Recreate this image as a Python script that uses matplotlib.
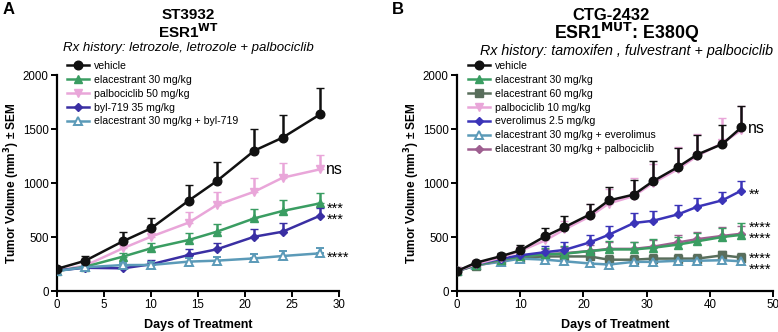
import numpy as np
import matplotlib
matplotlib.use("Agg")
import matplotlib.pyplot as plt
from matplotlib.lines import Line2D
import matplotlib.transforms as mtrans

plt.rcParams['font.family'] = ['Liberation Sans', 'DejaVu Sans']

# ---------------- Panel A data ----------------
days_a = [0, 3, 7, 10, 14, 17, 21, 24, 28]
a_labels = ["vehicle", "elacestrant 30 mg/kg", "palbociclib 50 mg/kg",
            "byl-719 35 mg/kg", "elacestrant 30 mg/kg + byl-719"]
a_vehicle = [205, 280, 460, 580, 836, 1018, 1300, 1420, 1636]
a_vehicle_sem = [20, 40, 83, 93, 145, 173, 200, 210, 244]
a_elac30 = [185, 225, 318, 395, 472, 549, 673, 741, 812]
a_elac30_sem = [10, 15, 30, 45, 62, 71, 83, 102, 98]
a_palbo50 = [190, 235, 395, 503, 633, 796, 920, 1049, 1127]
a_palbo50_sem = [10, 20, 40, 50, 102, 124, 129, 139, 132]
a_byl = [190, 215, 210, 247, 333, 386, 503, 549, 698]
a_byl_sem = [10, 15, 15, 40, 53, 55, 68, 78, 67]
a_combo = [185, 220, 240, 241, 272, 281, 302, 324, 349]
a_combo_sem = [10, 15, 20, 30, 30, 35, 38, 42, 45]

# significance labels: text and y position
a_ns = ("ns", 1125)
a_stars = [("***\n***", 752), ("****", 350)]

# ---------------- Panel B data ----------------
days_b = [0, 3, 7, 10, 14, 17, 21, 24, 28, 31, 35, 38, 42, 45]
b_labels = ["vehicle", "elacestrant 30 mg/kg", "elacestrant 60 mg/kg",
            "palbociclib 10 mg/kg", "everolimus 2.5 mg/kg",
            "elacestrant 30 mg/kg + everolimus",
            "elacestrant 30 mg/kg + palbociclib"]
b_vehicle = [185, 262, 323, 376, 508, 591, 708, 838, 893, 1016, 1149, 1263, 1361, 1515]
b_vehicle_sem = [10, 15, 25, 46, 77, 102, 99, 125, 132, 185, 175, 184, 179, 200]
b_elac30 = [185, 240, 290, 320, 340, 345, 370, 385, 385, 400, 430, 460, 500, 520]
b_elac30_sem = [10, 15, 30, 40, 60, 75, 80, 75, 70, 85, 70, 75, 85, 110]
b_elac60 = [185, 235, 280, 310, 320, 320, 320, 290, 290, 300, 300, 300, 330, 310]
b_elac60_sem = [10, 15, 20, 25, 30, 35, 40, 40, 40, 45, 40, 40, 40, 40]
b_palbo10 = [185, 250, 310, 370, 470, 570, 690, 810, 880, 1000, 1130, 1250, 1370, 1490]
b_palbo10_sem = [10, 20, 30, 40, 60, 80, 120, 130, 170, 180, 200, 200, 230, 220]
b_everol = [185, 250, 300, 330, 360, 380, 450, 520, 630, 650, 710, 780, 840, 930]
b_everol_sem = [10, 20, 30, 40, 55, 70, 70, 80, 95, 90, 85, 85, 80, 90]
b_elac_ever = [185, 240, 270, 300, 290, 275, 255, 245, 270, 270, 280, 280, 285, 275]
b_elac_ever_sem = [10, 15, 20, 25, 30, 30, 30, 30, 30, 30, 30, 30, 30, 30]
b_elac_palbo = [185, 240, 285, 320, 340, 350, 370, 390, 390, 410, 450, 480, 510, 530]
b_elac_palbo_sem = [10, 20, 30, 40, 50, 55, 60, 60, 60, 65, 70, 70, 80, 75]

b_ns = ("ns", 1505)
b_stars = [("**", 930), ("****\n****", 570), ("****\n****", 288)]

# ---------------- Styles ----------------
C_BLACK = "#111111"
C_GREEN = "#3a9d62"
C_PINK = "#e9a6d9"
C_NAVY = "#3a2fa3"
C_STEEL = "#5b9ab8"
C_DKGREEN = "#596e5c"
C_BLUE = "#3b34b8"
C_MAUVE = "#9e5f90"

fig = plt.figure(figsize=(7.78, 3.32), dpi=100)
W, H = 778, 332

def mkax(x0, x1, y0, y1):
    return fig.add_axes([x0 / W, (H - y1) / H, (x1 - x0) / W, (y1 - y0) / H])

axA = mkax(57, 339, 75, 291)
axB = mkax(457, 773, 75, 291)

LW = 1.8


def plot_series(ax, x, y, sem, color, marker, filled=True, ms=5.5, z=3):
    y = np.asarray(y, float)
    sem = np.asarray(sem, float)
    ax.errorbar(x, y, yerr=[np.zeros_like(sem), sem], color=color, ecolor=color,
                elinewidth=LW, capsize=3.2, capthick=LW, lw=LW,
                marker=marker, ms=ms,
                mfc=color if filled else "white", mec=color,
                mew=1.4 if not filled else 1, zorder=z)
    return Line2D([], [], color=color, lw=LW, marker=marker, ms=ms,
                  mfc=color if filled else "white", mec=color,
                  mew=1.4 if not filled else 1)


def style_axes(ax, xmax, xstep, ylab_px):
    ax.set_xlim(0, xmax)
    ax.set_ylim(0, 2000)
    ax.set_xticks(np.arange(0, xmax + 0.1, xstep))
    ax.set_yticks(np.arange(0, 2001, 500))
    for s in ("top", "right"):
        ax.spines[s].set_visible(False)
    for s in ("left", "bottom"):
        ax.spines[s].set_linewidth(1.6)
    ax.tick_params(direction="out", length=4, width=1.4, labelsize=8.3, pad=2)
    ax.set_xlabel("Days of Treatment", fontsize=9, fontweight="bold", labelpad=5.5)
    ax.set_ylabel("Tumor Volume (mm$^\\mathbf{3}$) ± SEM", fontsize=8.6,
                  fontweight="bold")
    bb = ax.get_position()
    ax.yaxis.set_label_coords((ylab_px / W - bb.x0) / bb.width, 0.5)


def sig_text(ax, x, items, ns):
    ax.text(x, ns[1], ns[0], fontsize=11.5, va="center", ha="left", clip_on=False)
    off = mtrans.ScaledTranslation(0, -3 / 72, fig.dpi_scale_trans)
    for txt, yv in items:
        nl = txt.count("\n") + 1
        ax.text(x + 0.1 * (ax.get_xlim()[1] / 30), yv, txt, fontsize=10.5, va="center",
                ha="left", linespacing=0.72 if nl > 1 else 1.0, clip_on=False,
                transform=ax.transData + off)


def add_legend(ax, handles, labels):
    ax.legend(handles, labels, loc="upper left", bbox_to_anchor=(0.02, 1.085),
              frameon=False, fontsize=7.6, handlelength=2.1, handletextpad=0.5,
              labelspacing=0.37, borderaxespad=0)


# Panel A
hA = {}
hA[a_labels[2]] = plot_series(axA, days_a, a_palbo50, a_palbo50_sem, C_PINK, "v", z=3)
hA[a_labels[1]] = plot_series(axA, days_a, a_elac30, a_elac30_sem, C_GREEN, "^", z=4)
hA[a_labels[3]] = plot_series(axA, days_a, a_byl, a_byl_sem, C_NAVY, "D", ms=4.5, z=5)
hA[a_labels[4]] = plot_series(axA, days_a, a_combo, a_combo_sem, C_STEEL, "^", filled=False, z=6)
hA[a_labels[0]] = plot_series(axA, days_a, a_vehicle, a_vehicle_sem, C_BLACK, "o", ms=6.2, z=7)
style_axes(axA, 30, 5, 22)
add_legend(axA, [hA[l] for l in a_labels], a_labels)
sig_text(axA, 28.6, a_stars, a_ns)

# Panel B
hB = {}
hB[b_labels[2]] = plot_series(axB, days_b, b_elac60, b_elac60_sem, C_DKGREEN, "s", z=3)
hB[b_labels[5]] = plot_series(axB, days_b, b_elac_ever, b_elac_ever_sem, C_STEEL, "^", filled=False, z=3)
hB[b_labels[6]] = plot_series(axB, days_b, b_elac_palbo, b_elac_palbo_sem, C_MAUVE, "D", ms=4.5, z=4)
hB[b_labels[1]] = plot_series(axB, days_b, b_elac30, b_elac30_sem, C_GREEN, "^", z=5)
hB[b_labels[4]] = plot_series(axB, days_b, b_everol, b_everol_sem, C_BLUE, "D", ms=4.5, z=5)
hB[b_labels[3]] = plot_series(axB, days_b, b_palbo10, b_palbo10_sem, C_PINK, "v", z=5)
hB[b_labels[0]] = plot_series(axB, days_b, b_vehicle, b_vehicle_sem, C_BLACK, "o", ms=6.2, z=7)
style_axes(axB, 50, 10, 422)
add_legend(axB, [hB[l] for l in b_labels], b_labels)
sig_text(axB, 46.0, b_stars, b_ns)

# Titles
fig.text(188 / W, 1 - 15 / H, "ST3932", ha="center", va="center", fontsize=11, fontweight="bold")
fig.text(189 / W, 1 - 32 / H, "ESR1$^{\\mathbf{WT}}$", ha="center", va="center", fontsize=11, fontweight="bold")
fig.text(188 / W, 1 - 48 / H, "Rx history: letrozole, letrozole + palbociclib", ha="center",
         va="center", fontsize=9.5, style="italic")
fig.text(611 / W, 1 - 15 / H, "CTG-2432", ha="center", va="center", fontsize=12, fontweight="bold")
fig.text(627 / W, 1 - 33 / H, "ESR1$^{\\mathbf{MUT}}$: E380Q", ha="center", va="center", fontsize=12.8, fontweight="bold")
fig.text(626 / W, 1 - 51 / H, "Rx history: tamoxifen , fulvestrant + palbociclib", ha="center",
         va="center", fontsize=10.3, style="italic")
fig.text(3 / W, 1 - 10 / H, "A", ha="left", va="center", fontsize=12, fontweight="bold")
fig.text(392 / W, 1 - 10 / H, "B", ha="left", va="center", fontsize=12, fontweight="bold")

fig.savefig("out.png", dpi=100)
